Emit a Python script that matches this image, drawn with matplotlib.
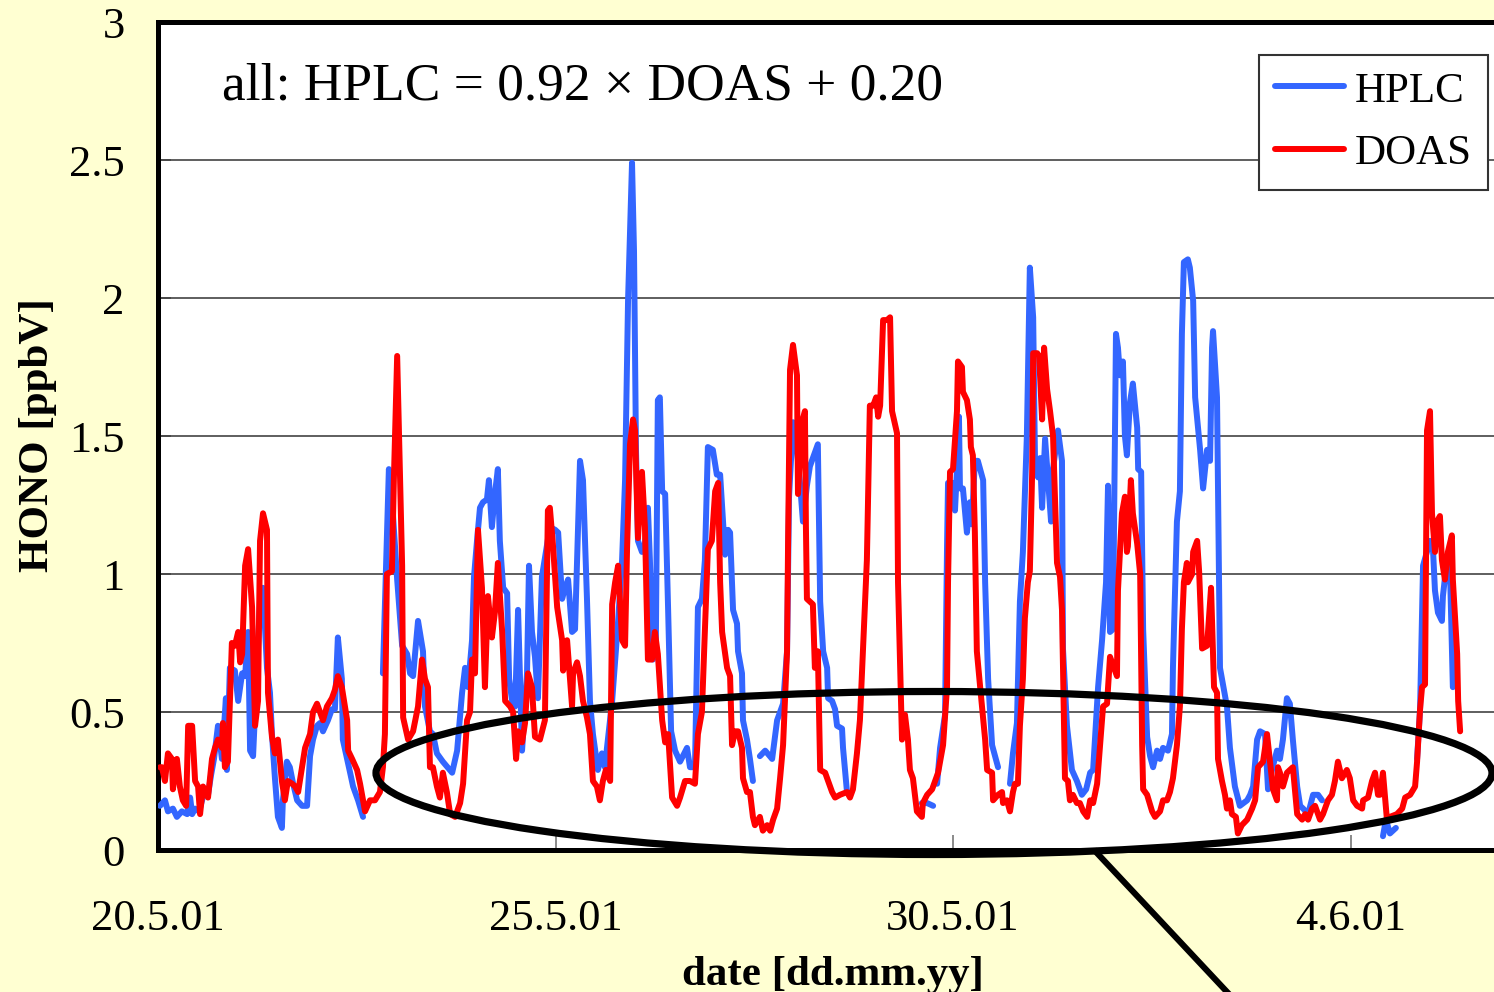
import numpy as np
import matplotlib
matplotlib.use("Agg")
import matplotlib.pyplot as plt
from matplotlib.patches import Ellipse
from matplotlib.lines import Line2D

nan = np.nan

# time in hours since 20.5.01 00:00, HONO in ppbV
hplc_t = [0.6, 2.1, 3.0, 4.5, 5.7, 7.2, 8.8, 9.7, 10.3, 11.2, 12.4, 13.3, 14.2, 15.1, 16.0, 16.9, 18.1, 19.3, 20.5, 20.8,
          21.7, 23.2, 24.2, 25.4, 26.3, 27.2, 27.8, 28.7, 29.9, 30.8, 31.7, 32.9, 33.8, 34.4, 35.3, 36.2, 37.4, 37.7, 38.9, 39.8,
          40.8, 42.0, 43.5, 45.0, 45.9, 46.8, 48.0, 48.9, 49.8, 51.3, 52.5, 53.4, 54.3, 55.5, 55.8, 57.1, 58.0, 58.9, 60.4, 61.9,
          64.0,
          67.9, 69.7, 70.9, 72.2, 73.7, 75.2, 76.1, 77.0, 78.5, 80.0, 80.6, 82.1, 83.0, 84.2, 86.0, 88.8, 90.3, 91.8, 92.7, 93.6,
          94.8, 95.4, 96.3, 97.2, 98.1, 99.3, 99.9, 100.8, 101.7, 102.6, 103.2, 104.2, 105.4, 106.0, 106.9, 107.8, 108.7, 109.9, 111.4, 112.0,
          112.9, 113.8, 114.7, 115.9, 117.1, 118.3, 119.9, 120.8, 122.0, 122.9, 123.8, 125.0, 125.9, 127.4, 128.3, 129.5, 130.4, 131.3, 132.8, 134.0,
          134.9, 137.1, 138.9, 140.1, 141.0, 141.9, 143.1, 143.7, 144.3, 144.9, 146.1, 147.0, 147.9, 148.5, 149.4, 150.3, 150.9, 151.5, 152.2, 153.1,
          154.0, 154.9, 156.1, 157.6, 159.7, 160.6, 162.1, 163.0, 164.2, 165.1, 166.0, 167.5, 168.7, 169.7, 171.2, 172.1, 172.7, 173.6, 174.8, 175.1,
          176.3, 176.6, 177.8, 178.7, 179.6,
          180.6,
          181.7, 183.3, 185.4, 186.9, 187.8, 188.7, 189.9, 190.5, 191.7, 192.9, 193.8, 194.7, 195.9, 196.8, 197.7, 198.9, 199.2, 199.9, 200.8, 202.0,
          202.3, 203.5, 204.4, 205.0, 206.5, 206.8, 208.0,
          220.0,
          230.6, 232.2, 234.0,
          234.6,
          235.2, 236.1, 237.6, 238.2, 238.5, 240.0, 240.6, 241.2, 241.8, 242.1, 243.0, 244.2, 245.1, 245.7, 246.6, 247.5, 249.1, 249.7, 250.6, 251.8,
          252.7, 253.6,
          255.0,
          257.2, 258.1, 259.3, 260.2, 261.1, 262.3, 263.2, 264.2, 264.8, 265.7, 266.3, 266.9, 267.8, 268.7, 269.6, 270.2, 271.7, 272.9, 273.2, 274.4,
          275.9, 277.4, 278.9, 280.2, 281.4, 282.3, 282.9, 283.8, 285.0, 286.2, 286.8, 287.4, 288.3, 289.2, 289.8, 290.4, 291.3, 291.9, 292.5, 293.4,
          294.3, 295.6, 295.9, 296.8, 297.4, 298.6, 299.5, 300.4, 301.6, 302.5, 303.4, 304.9, 306.1, 306.4, 307.6, 308.5, 309.1, 309.7, 310.9, 311.5,
          312.5, 313.1, 314.6, 315.5, 316.7, 317.6, 318.2, 318.5, 319.7, 320.6, 322.7, 323.6, 325.1, 326.6, 328.8, 329.7, 330.6, 331.8, 332.7, 334.2,
          335.1, 336.3, 337.8, 338.7, 339.6, 340.8, 341.7, 342.6, 343.9, 344.8, 345.7, 347.2, 348.7, 350.2, 351.4,
          360.0,
          369.8, 370.7, 371.9, 373.7,
          376.0,
          380.1, 381.0, 381.9, 384.0, 384.9, 385.5, 386.4, 387.6, 387.9, 389.1, 389.9, 390.9]
hplc_v = [0.16, 0.18, 0.14, 0.15, 0.12, 0.14, 0.13, 0.19, 0.13, 0.15, 0.14, 0.18, 0.22, 0.20, 0.27, 0.33, 0.45, 0.33, 0.55, 0.29,
          0.66, 0.65, 0.54, 0.64, 0.63, 0.79, 0.36, 0.34, 0.66, 0.91, 0.95, 0.66, 0.57, 0.42, 0.26, 0.12, 0.08, 0.18, 0.32, 0.30,
          0.24, 0.18, 0.16, 0.16, 0.34, 0.40, 0.45, 0.46, 0.43, 0.47, 0.51, 0.51, 0.77, 0.62, 0.40, 0.33, 0.28, 0.23, 0.18, 0.12,
          nan,
          0.64, 1.38, 1.22, 0.98, 0.74, 0.71, 0.64, 0.63, 0.83, 0.72, 0.52, 0.43, 0.42, 0.35, 0.32, 0.28, 0.36, 0.57, 0.66, 0.59,
          0.76, 0.99, 1.12, 1.24, 1.26, 1.27, 1.34, 1.17, 1.29, 1.38, 1.12, 0.95, 0.93, 0.62, 0.54, 0.52, 0.87, 0.36, 0.64, 1.03,
          0.79, 0.70, 0.55, 0.99, 1.08, 1.17, 1.16, 1.15, 0.91, 0.95, 0.98, 0.79, 0.80, 1.41, 1.34, 0.91, 0.54, 0.42, 0.29, 0.35,
          0.30, 0.54, 0.83, 1.05, 1.34, 1.99, 2.49, 2.17, 1.45, 1.12, 1.08, 1.11, 1.24, 1.05, 0.69, 0.76, 1.63, 1.64, 1.30, 1.29,
          0.87, 0.43, 0.36, 0.32, 0.37, 0.30, 0.30, 0.88, 0.91, 1.05, 1.46, 1.45, 1.36, 1.36, 1.07, 1.16, 1.15, 0.87, 0.82, 0.72,
          0.64, 0.47, 0.40, 0.33, 0.25,
          nan,
          0.34, 0.36, 0.33, 0.47, 0.50, 0.53, 0.72, 1.28, 1.55, 1.45, 1.33, 1.19, 1.32, 1.39, 1.42, 1.46, 1.47, 0.90, 0.72, 0.66,
          0.55, 0.54, 0.51, 0.45, 0.44, 0.37, 0.21,
          nan,
          0.17, 0.17, 0.16,
          nan,
          0.24, 0.37, 0.49, 1.10, 1.33, 1.33, 1.23, 1.38, 1.57, 1.31, 1.31, 1.15, 1.26, 1.18, 1.41, 1.41, 1.34, 0.97, 0.62, 0.38,
          0.34, 0.30,
          nan,
          0.24, 0.35, 0.46, 0.90, 1.08, 1.50, 2.11, 1.93, 1.37, 1.35, 1.42, 1.24, 1.49, 1.34, 1.19, 1.38, 1.52, 1.41, 0.73, 0.45,
          0.29, 0.25, 0.20, 0.22, 0.28, 0.29, 0.41, 0.59, 0.76, 0.97, 1.32, 0.79, 0.80, 1.87, 1.82, 1.72, 1.77, 1.50, 1.43, 1.62,
          1.69, 1.53, 1.38, 1.37, 0.80, 0.41, 0.34, 0.30, 0.36, 0.33, 0.37, 0.36, 0.42, 0.66, 1.19, 1.30, 1.87, 2.13, 2.14, 2.11,
          1.99, 1.64, 1.45, 1.31, 1.45, 1.41, 1.82, 1.88, 1.64, 0.66, 0.52, 0.37, 0.23, 0.16, 0.18, 0.20, 0.23, 0.40, 0.43, 0.42,
          0.22, 0.29, 0.36, 0.33, 0.40, 0.55, 0.53, 0.40, 0.23, 0.16, 0.15, 0.13, 0.20, 0.20, 0.18,
          nan,
          0.05, 0.11, 0.06, 0.08,
          nan,
          0.33, 0.51, 1.03, 1.12, 1.09, 0.94, 0.86, 0.83, 0.92, 1.05, 1.08, 0.59]

doas_t = [0.6, 1.2, 2.1, 3.0, 4.2, 4.5, 5.7, 6.6, 7.5, 8.5, 9.1, 10.3, 11.2, 12.1, 12.7, 13.6, 15.1, 16.3, 17.2, 18.1,
          19.3, 19.6, 20.2, 21.1, 22.3, 23.2, 24.2, 24.8, 25.4, 26.3, 27.2, 28.4, 29.3, 30.2, 30.8, 31.7, 32.9, 33.2, 34.4, 35.3,
          36.2, 37.4, 38.3, 39.2, 40.5, 41.4, 42.3, 43.5, 44.4, 45.9, 46.8, 48.0, 48.9, 49.8, 51.0, 52.5, 53.4, 54.3, 55.5, 57.1,
          57.4, 58.6, 60.1, 61.0, 62.5, 64.0, 65.5, 67.0, 67.9, 68.5, 69.1, 70.6, 71.2, 72.2, 72.8, 73.7, 74.0, 75.5, 77.0, 78.5,
          79.7, 80.6, 81.5, 82.1, 83.0, 84.2, 85.1, 86.0, 87.2, 88.2, 89.7, 91.2, 92.1, 93.3, 94.2, 94.8, 95.7, 96.6, 97.8, 98.7,
          99.6, 100.8, 101.7, 102.6, 103.9, 104.8, 106.3, 107.2, 108.1, 108.7, 109.9, 110.8, 111.7, 112.9, 113.8, 115.3, 116.8, 117.7, 118.3, 119.2,
          120.5, 122.0, 122.3, 123.5, 125.0, 125.3, 126.5, 127.4, 128.3, 129.5, 130.4, 131.3, 132.5, 133.4, 134.3, 135.2, 136.5, 137.1, 138.0, 138.9,
          140.1, 141.0, 141.6, 142.5, 143.4, 144.0, 144.9, 146.1, 147.0, 147.9, 149.1, 150.0, 150.9, 152.2, 153.1, 154.0, 155.2, 156.7, 157.6, 159.1,
          160.6, 162.1, 163.0, 164.2, 165.1, 166.0, 167.2, 168.2, 169.1, 169.7, 170.3, 171.8, 172.7, 173.3, 174.2, 175.1, 176.3, 176.6, 177.8, 178.7,
          179.6, 180.2, 181.7, 182.6, 183.9, 184.8, 185.7, 186.9, 187.8, 188.7, 189.9, 190.2, 190.8, 191.7, 192.9, 193.2, 193.8, 194.4, 195.3, 195.6,
          195.9, 197.7, 198.3, 199.2, 199.9, 201.4, 202.3, 203.5, 204.4, 205.9, 208.0, 208.9, 209.8, 211.0, 211.9, 212.8, 214.0, 214.9, 215.9, 216.8,
          217.4, 218.0, 218.9, 220.1, 221.0, 221.6, 223.1, 223.4, 224.6, 225.5, 226.4, 227.0, 227.9, 229.1, 230.6, 230.9, 232.2, 233.7, 234.6, 235.5,
          237.0, 238.2, 238.5, 239.1, 240.0, 241.2, 241.5, 242.7, 243.0, 244.2, 245.1, 245.4, 246.0, 246.6, 247.2, 248.2, 249.7, 250.3, 251.8, 252.1,
          253.6, 254.8, 255.1, 256.3, 257.2, 258.1, 258.7, 259.6, 260.2, 261.1, 261.7, 262.6, 263.2, 263.9, 264.2, 265.4, 266.0, 266.9, 267.5, 268.4,
          269.3, 270.2, 271.4, 272.3, 272.9, 273.8, 274.7, 275.3, 276.2, 277.4, 278.3, 279.3, 280.5, 281.4, 282.3, 283.5, 284.4, 285.3, 286.5, 287.4,
          288.3, 289.5, 289.8, 291.0, 291.9, 292.5, 292.8, 293.7, 294.3, 295.6, 296.5, 297.1, 297.4, 298.6, 300.1, 301.0, 302.5, 303.4, 304.6, 305.5,
          306.4, 307.6, 308.5, 309.1, 309.7, 310.6, 310.9, 312.2, 312.5, 313.7, 314.3, 315.2, 316.7, 317.9, 318.5, 318.8, 319.7, 320.0, 321.2, 322.1,
          322.7, 323.6, 324.2, 325.4, 326.0, 327.2, 328.8, 330.3, 331.2, 332.1, 333.6, 334.8, 335.7, 336.6, 337.8, 338.1, 338.7, 339.6, 340.8, 341.7,
          342.6, 343.9, 345.4, 346.3, 347.2, 348.4, 349.3, 350.8, 351.7, 353.2, 354.4, 355.3, 356.2, 357.4, 358.9, 359.8, 360.8, 362.0, 363.5, 363.8,
          365.3, 366.5, 367.4, 368.3, 368.9, 369.8, 371.0, 371.9, 374.0, 375.6, 376.5, 378.0, 379.5, 380.1, 381.0, 381.6, 382.5, 383.1, 384.0, 384.6,
          385.5, 386.1, 387.0, 387.6, 388.5, 389.4, 390.6, 390.9, 392.2, 392.5, 393.1]
doas_v = [0.30, 0.30, 0.25, 0.35, 0.33, 0.22, 0.33, 0.23, 0.18, 0.16, 0.45, 0.45, 0.25, 0.23, 0.13, 0.23, 0.19, 0.33, 0.37, 0.40,
          0.37, 0.46, 0.30, 0.32, 0.75, 0.74, 0.79, 0.68, 0.71, 1.03, 1.09, 0.88, 0.45, 0.54, 1.12, 1.22, 1.16, 0.57, 0.41, 0.35,
          0.40, 0.25, 0.18, 0.25, 0.24, 0.23, 0.21, 0.30, 0.37, 0.42, 0.50, 0.53, 0.50, 0.47, 0.52, 0.55, 0.58, 0.63, 0.59, 0.47,
          0.36, 0.33, 0.29, 0.24, 0.14, 0.18, 0.18, 0.21, 0.30, 0.42, 1.00, 1.01, 1.34, 1.79, 1.49, 1.03, 0.48, 0.40, 0.43, 0.52,
          0.69, 0.62, 0.59, 0.30, 0.30, 0.23, 0.19, 0.28, 0.21, 0.13, 0.12, 0.17, 0.24, 0.47, 0.50, 0.69, 0.64, 1.16, 0.95, 0.59,
          0.92, 0.77, 0.86, 1.04, 0.79, 0.54, 0.52, 0.50, 0.33, 0.43, 0.39, 0.46, 0.64, 0.59, 0.41, 0.40, 0.47, 1.23, 1.24, 1.11,
          0.88, 0.76, 0.65, 0.76, 0.52, 0.64, 0.68, 0.63, 0.54, 0.48, 0.42, 0.25, 0.23, 0.18, 0.25, 0.29, 0.25, 0.89, 0.97, 1.03,
          0.76, 0.74, 1.09, 1.47, 1.56, 1.52, 1.13, 1.37, 1.17, 0.69, 0.69, 0.79, 0.71, 0.47, 0.39, 0.42, 0.19, 0.16, 0.19, 0.25,
          0.25, 0.24, 0.42, 0.50, 0.79, 1.09, 1.12, 1.30, 1.33, 0.97, 0.79, 0.66, 0.63, 0.38, 0.43, 0.43, 0.37, 0.26, 0.21, 0.21,
          0.12, 0.09, 0.12, 0.07, 0.09, 0.07, 0.11, 0.15, 0.26, 0.38, 0.72, 1.10, 1.74, 1.83, 1.72, 1.29, 1.42, 1.55, 1.59, 1.17,
          0.91, 0.89, 0.66, 0.72, 0.29, 0.28, 0.25, 0.21, 0.19, 0.20, 0.21, 0.19, 0.22, 0.35, 0.47, 0.72, 1.05, 1.61, 1.61, 1.64,
          1.57, 1.61, 1.92, 1.92, 1.93, 1.59, 1.51, 0.97, 0.40, 0.49, 0.40, 0.29, 0.26, 0.14, 0.12, 0.17, 0.20, 0.22, 0.25, 0.28,
          0.38, 0.59, 0.97, 1.37, 1.38, 1.59, 1.77, 1.75, 1.66, 1.63, 1.56, 1.46, 1.43, 1.15, 0.72, 0.59, 0.40, 0.29, 0.28, 0.18,
          0.20, 0.21, 0.17, 0.18, 0.14, 0.21, 0.24, 0.24, 0.45, 0.62, 0.84, 0.97, 1.01, 1.37, 1.80, 1.80, 1.79, 1.56, 1.82, 1.67,
          1.59, 1.50, 1.04, 0.99, 0.87, 0.26, 0.25, 0.18, 0.20, 0.17, 0.17, 0.14, 0.12, 0.18, 0.17, 0.24, 0.38, 0.52, 0.53, 0.70,
          0.67, 0.63, 0.94, 1.22, 1.28, 1.08, 1.10, 1.34, 1.22, 1.11, 1.00, 0.38, 0.22, 0.20, 0.14, 0.12, 0.14, 0.18, 0.18, 0.21,
          0.26, 0.38, 0.52, 0.80, 0.97, 1.04, 0.97, 1.00, 1.08, 1.12, 1.01, 0.73, 0.74, 0.95, 0.71, 0.59, 0.57, 0.33, 0.25, 0.20,
          0.15, 0.18, 0.13, 0.12, 0.06, 0.09, 0.11, 0.15, 0.18, 0.30, 0.32, 0.42, 0.32, 0.22, 0.18, 0.30, 0.28, 0.23, 0.28, 0.29,
          0.30, 0.13, 0.11, 0.13, 0.11, 0.15, 0.16, 0.11, 0.13, 0.18, 0.20, 0.25, 0.32, 0.26, 0.29, 0.26, 0.18, 0.16, 0.15, 0.18,
          0.19, 0.25, 0.28, 0.20, 0.20, 0.28, 0.11, 0.12, 0.13, 0.15, 0.19, 0.20, 0.23, 0.32, 0.51, 0.59, 0.60, 1.52, 1.59, 1.22,
          1.08, 1.19, 1.21, 1.05, 0.98, 1.08, 1.14, 0.98, 0.71, 0.54, 0.43]

tick_hours = [0, 120, 240, 360]
tick_labels = ["20.5.01", "25.5.01", "30.5.01", "4.6.01"]
y_ticks = [0, 0.5, 1, 1.5, 2, 2.5, 3]
y_tick_labels = ["0", "0.5", "1", "1.5", "2", "2.5", "3"]

plt.rcParams['font.family'] = ['Liberation Serif', 'DejaVu Serif']

W, H = 1494, 992
fig = plt.figure(figsize=(W / 100, H / 100), dpi=100)
fig.patch.set_facecolor('#FFFFD2')

px_per_hour = 79.5 / 24.0
x_max = 408
ax_left, ax_bottom = 158 / W, 1 - 850 / H
ax_w = (x_max * px_per_hour) / W
ax_h = (850 - 22) / H
ax = fig.add_axes([ax_left, ax_bottom, ax_w, ax_h])
ax.set_facecolor('white')

ax.plot(hplc_t, hplc_v, color='#3366FF', lw=4.3, solid_joinstyle='round', solid_capstyle='round',
        label='HPLC', zorder=3)
ax.plot(doas_t, doas_v, color='#FF0000', lw=4.3, solid_joinstyle='round', solid_capstyle='round',
        label='DOAS', zorder=4)

ax.set_xlim(0, x_max)
ax.set_ylim(0, 3)
ax.set_xticks(tick_hours)
ax.set_xticklabels(tick_labels)
ax.set_yticks(y_ticks)
ax.set_yticklabels(y_tick_labels)
ax.tick_params(axis='x', direction='in', length=11, width=1.2, color='#777777', labelsize=32, pad=35)
ax.tick_params(axis='y', direction='in', length=9, width=1.2, color='#444444', labelsize=32, pad=24)
ax.yaxis.grid(True, color='#333333', lw=1.1)
ax.set_axisbelow(True)
for side in ['left', 'bottom', 'top']:
    ax.spines[side].set_linewidth(3.6)
    ax.spines[side].set_color('black')
ax.spines['right'].set_visible(False)

fig.text(222 / W, 1 - 100 / H, "all: HPLC = 0.92 \u00d7 DOAS + 0.20", fontsize=38.4,
         ha='left', va='baseline')

fig.text(38 / W, 1 - 435 / H, "HONO [ppbV]", rotation=90, fontsize=31, fontweight='bold',
         ha='center', va='center')
fig.text(833 / W, 1 - 975 / H, "date [dd.mm.yy]", fontsize=31, fontweight='bold',
         ha='center', va='center')

leg = ax.legend(loc='upper left', bbox_to_anchor=(1259 / W, 1 - 55 / H), bbox_transform=fig.transFigure,
                borderaxespad=0, fontsize=31, handlelength=1.6, handletextpad=0.25, borderpad=0.38,
                labelspacing=0.55, fancybox=False, framealpha=1, edgecolor='#333333')
leg.get_frame().set_linewidth(1.5)
for h in leg.get_lines():
    h.set_linewidth(4.3)

ell = Ellipse((934 / W, 1 - 773 / H), 1116 / W, 163 / H, transform=fig.transFigure,
              fill=False, edgecolor='black', lw=5.2, zorder=10)
fig.add_artist(ell)
fig.add_artist(Line2D([1096 / W, 1228 / W], [1 - 852 / H, 1 - 993 / H], transform=fig.transFigure,
                      color='black', lw=4.4, zorder=10))

fig.savefig('out.png', dpi=100, facecolor=fig.get_facecolor())
